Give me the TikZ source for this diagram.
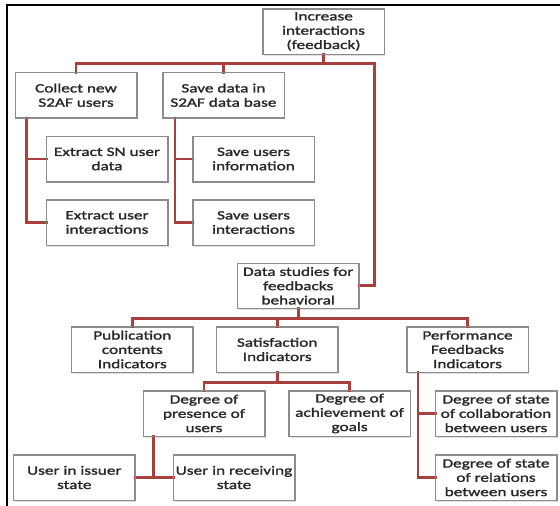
\documentclass[tikz,border=0pt]{standalone}
\usepackage{fontspec}
\setmainfont{Carlito}[FakeStretch=1.36, FakeBold=1.6]
\usetikzlibrary{calc,shadows}
\definecolor{linkred}{RGB}{168,64,64}
\definecolor{boxgray}{RGB}{140,140,140}
\definecolor{txt}{RGB}{40,40,40}
\begin{document}
\begin{tikzpicture}[x=1pt,y=-1pt,
  box/.style={draw=boxgray, line width=0.8pt, fill=white,
    minimum width=121pt, minimum height=45pt, inner sep=1pt,
    align=center, text=txt, font=\fontsize{12.7}{14.3}\selectfont,
    drop shadow={opacity=0.25, shadow xshift=1.2pt, shadow yshift=-1.6pt}},
  link/.style={draw=linkred, line width=2.8pt, line join=miter, line cap=rect}]
\useasboundingbox (0,0) rectangle (560,506);
% outer frame
\draw[line width=2.2pt] (7.3,506) -- (7.3,5) -- (560,5);

% boxes
\node[box] (root)   at (323.5,31.5)  {Increase\\interactions\\(feedback)};
\node[box] (collect) at (76,95.2)    {Collect new\\S2AF users};
\node[box] (save)   at (223.4,95.2)  {Save data in\\S2AF data base};
\node[box] (exsn)   at (107,159)     {Extract SN user\\data};
\node[box] (exui)   at (107,222.5)   {Extract user\\interactions};
\node[box] (suinfo) at (253.5,159)   {Save users\\information};
\node[box] (suint)  at (253.5,222.5) {Save users\\interactions};
\node[box] (data)   at (298.2,285.8) {Data studies for\\feedbacks\\behavioral};
\node[box] (pub)    at (132.3,349.5) {Publication\\contents\\Indicators};
\node[box] (sat)    at (277.2,349.5) {Satisfaction\\Indicators};
\node[box] (perf)   at (467.5,349.5) {Performance\\Feedbacks\\Indicators};
\node[box] (pres)   at (204,413.5)   {Degree of\\presence of\\users};
\node[box] (ach)    at (349.6,413.5) {Degree of\\achievement of\\goals};
\node[box] (collab) at (496,413.5)   {Degree of state\\of collaboration\\between users};
\node[box] (rel)    at (496,477.5)   {Degree of state\\of relations\\between users};
\node[box] (issuer) at (74.3,477.5)  {User in issuer\\state};
\node[box] (recv)   at (234,477.5)   {User in receiving\\state};

% top level bar
\coordinate (rbar) at (374.3,63.3);
\draw[link] (collect.north) |- (rbar) |- (data.east);
\draw[link] (root.south) -- (root.south |- rbar);
\draw[link] (save.north) -- (save.north |- rbar);

% collect branch
\coordinate (cl) at ($(collect.south west)+(11.6,0)$);
\draw[link] (cl) |- (exui.west);
\draw[link] (cl |- exsn.west) -- (exsn.west);

% save branch
\coordinate (sl) at ($(save.south west)+(12.5,0)$);
\draw[link] (sl) |- (suint.west);
\draw[link] (sl |- suinfo.west) -- (suinfo.west);

% data studies bar
\coordinate (dj) at ($(data.south)+(0,9.4)$);
\draw[link] (data.south) -- (dj);
\draw[link] (pub.north) |- (dj) -| (perf.north);
\draw[link] (sat.north) -- (sat.north |- dj);

% satisfaction bar
\coordinate (sj) at ($(sat.south)+(0,9.7)$);
\draw[link] (sat.south) -- (sj);
\draw[link] (pres.north) |- (sj) -| (ach.north);

% performance branch
\coordinate (pl) at ($(perf.south west)+(11.3,0)$);
\draw[link] (pl) |- (rel.west);
\draw[link] (pl |- collab.west) -- (collab.west);

% presence branch
\coordinate (prl) at ($(pres.south west)+(10.7,0)$);
\draw[link] (prl) |- (recv.west);
\draw[link] (prl |- issuer.east) -- (issuer.east);

% redraw box outlines over the connector ends
\foreach \n in {root,collect,save,exsn,exui,suinfo,suint,data,pub,sat,perf,pres,ach,collab,rel,issuer,recv}
  \draw[boxgray, line width=0.8pt] (\n.south west) rectangle (\n.north east);
\end{tikzpicture}
\end{document}
